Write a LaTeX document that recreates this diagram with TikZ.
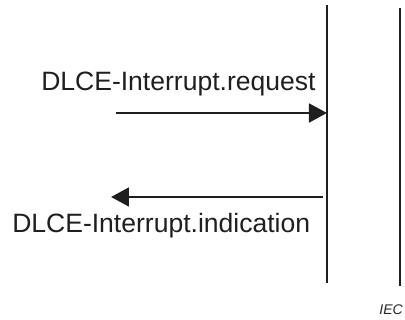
\documentclass[tikz,border=0pt]{standalone}
\usepackage{fontspec}
\setmainfont{Liberation Sans}
\usetikzlibrary{arrows.meta}
\begin{document}
\begin{tikzpicture}[x=0.75pt,y=-0.75pt,
  lifeline/.style={line width=1.6pt,draw=black!88},
  msg/.style={line width=2.2pt,draw=black!88,-{Triangle[length=13.5pt,width=14pt]}},
  lbl/.style={font=\fontsize{19.9}{24}\selectfont,inner sep=0pt,anchor=base west,text=black!88},
  iec/.style={font=\fontsize{10.5}{12}\selectfont\itshape,inner sep=0pt,anchor=base east,text=black!85}]
\useasboundingbox (0,0) rectangle (405,320);
\coordinate (l1t) at (327,5);
\coordinate (l1b) at (327,283);
\coordinate (l2t) at (400,8);
\coordinate (l2b) at (400,286);
\draw[lifeline] (l1t) -- (l1b);
\draw[lifeline] (l2t) -- (l2b);
\coordinate (a1s) at (116,113);
\coordinate (a1e) at (327,113);
\coordinate (a2s) at (323,197);
\coordinate (a2e) at (111,197);
\draw[msg] (a1s) -- (a1e);
\draw[msg] (a2s) -- (a2e);
\node[lbl] (req) at (41,90.5) {DLCE-Interrupt.request};
\node[lbl] (ind) at (12,233) {DLCE-Interrupt.indication};
\node[iec] (iec) at (403,315) {IEC};
\end{tikzpicture}
\end{document}
